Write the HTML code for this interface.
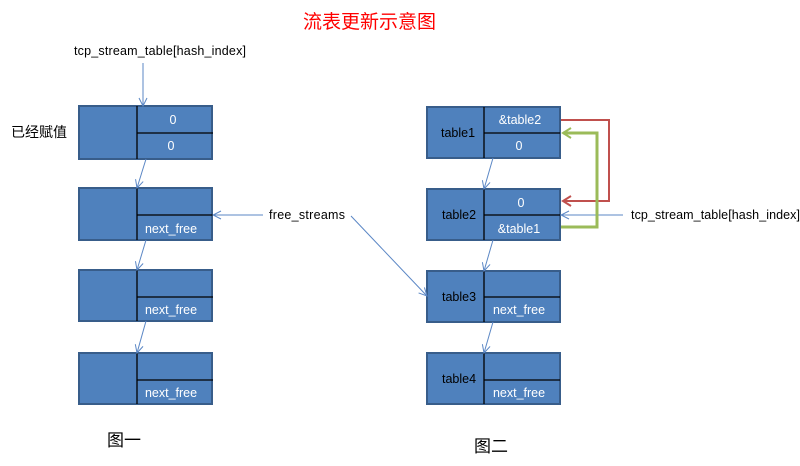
<!DOCTYPE html>
<html><head><meta charset="utf-8"><style>
body{margin:0;background:#fff;width:800px;height:461px;overflow:hidden}
svg text{font-family:"Liberation Sans","Noto Sans CJK SC",sans-serif}
</style></head><body>
<svg width="800" height="461" viewBox="0 0 800 461" xmlns="http://www.w3.org/2000/svg">
<defs>
<marker id="a" markerWidth="10" markerHeight="10" refX="9" refY="5" orient="auto" markerUnits="userSpaceOnUse"><path d="M1,1 L9,5 L1,9" fill="none" stroke="#5b87c5" stroke-width="1"/></marker>
<marker id="r" markerWidth="12" markerHeight="12" refX="10" refY="6" orient="auto" markerUnits="userSpaceOnUse"><path d="M2,1 L10,6 L2,11" fill="none" stroke="#c0504d" stroke-width="2"/></marker>
<marker id="g" markerWidth="12" markerHeight="12" refX="10" refY="6" orient="auto" markerUnits="userSpaceOnUse"><path d="M2,1 L10,6 L2,11" fill="none" stroke="#9bbb59" stroke-width="2"/></marker>
</defs>
<text x="303" y="28" font-size="19" fill="#ff0000" style="font-family:'Noto Sans CJK SC',sans-serif">流表更新示意图</text>
<g fill="#4f81bd" stroke="#385d8a" stroke-width="2">
<rect x="79" y="106" width="133" height="53"/><rect x="79" y="188" width="133" height="52"/>
<rect x="79" y="270" width="133" height="51"/><rect x="79" y="353" width="133" height="51"/>
<rect x="427" y="107" width="133" height="51"/><rect x="427" y="189" width="133" height="51"/>
<rect x="427" y="271" width="133" height="51"/><rect x="427" y="353" width="133" height="51"/>
</g>
<g stroke="#000" stroke-width="1.3">
<line x1="137" y1="106" x2="137" y2="159"/><line x1="137" y1="133" x2="213" y2="133"/>
<line x1="137" y1="188" x2="137" y2="240"/><line x1="137" y1="215" x2="213" y2="215"/>
<line x1="137" y1="270" x2="137" y2="321"/><line x1="137" y1="297" x2="213" y2="297"/>
<line x1="137" y1="353" x2="137" y2="404"/><line x1="137" y1="380" x2="213" y2="380"/>
<line x1="484" y1="107" x2="484" y2="158"/><line x1="484" y1="133" x2="560" y2="133"/>
<line x1="484" y1="189" x2="484" y2="240"/><line x1="484" y1="215" x2="560" y2="215"/>
<line x1="484" y1="271" x2="484" y2="322"/><line x1="484" y1="297" x2="560" y2="297"/>
<line x1="484" y1="353" x2="484" y2="404"/><line x1="484" y1="380" x2="560" y2="380"/>
</g>
<g font-size="12.5" fill="#fff" text-anchor="middle">
<text x="173" y="124">0</text><text x="171" y="150">0</text>
<text x="171" y="233">next_free</text><text x="171" y="314">next_free</text><text x="171" y="397">next_free</text>
<text x="520" y="124">&amp;table2</text><text x="519" y="150">0</text>
<text x="521" y="207">0</text><text x="519" y="233">&amp;table1</text>
<text x="519" y="314">next_free</text><text x="519" y="397">next_free</text>
</g>
<g font-size="12.5" fill="#000" text-anchor="middle">
<text x="458" y="137">table1</text><text x="459" y="219">table2</text>
<text x="459" y="301">table3</text><text x="459" y="383">table4</text>
</g>
<g font-size="12.5" fill="#000">
<text x="74" y="55" textLength="172">tcp_stream_table[hash_index]</text>
<text x="269" y="219" textLength="76">free_streams</text>
<text x="631" y="219" textLength="169">tcp_stream_table[hash_index]</text>
<text x="11" y="137" font-size="14">已经赋值</text>
<text x="107" y="446" font-size="17">图一</text>
<text x="474" y="452" font-size="17">图二</text>
</g>
<g stroke="#5b87c5" stroke-width="1" fill="none" marker-end="url(#a)">
<line x1="143" y1="63" x2="143" y2="106"/>
<line x1="146" y1="159" x2="137" y2="188"/>
<line x1="146" y1="240" x2="137" y2="270"/>
<line x1="146" y1="321" x2="137" y2="353"/>
<line x1="263" y1="215" x2="213" y2="215"/>
<line x1="351" y1="216" x2="427" y2="296"/>
<line x1="493" y1="158" x2="484" y2="189"/>
<line x1="493" y1="240" x2="484" y2="271"/>
<line x1="493" y1="322" x2="484" y2="353"/>
<line x1="623" y1="215" x2="561" y2="215"/>
</g>
<polyline points="561,120 609,120 609,201 563,201" fill="none" stroke="#c0504d" stroke-width="2" marker-end="url(#r)"/>
<polyline points="561,227 597,227 597,133 563,133" fill="none" stroke="#9bbb59" stroke-width="3" marker-end="url(#g)"/>
</svg>
</body></html>
